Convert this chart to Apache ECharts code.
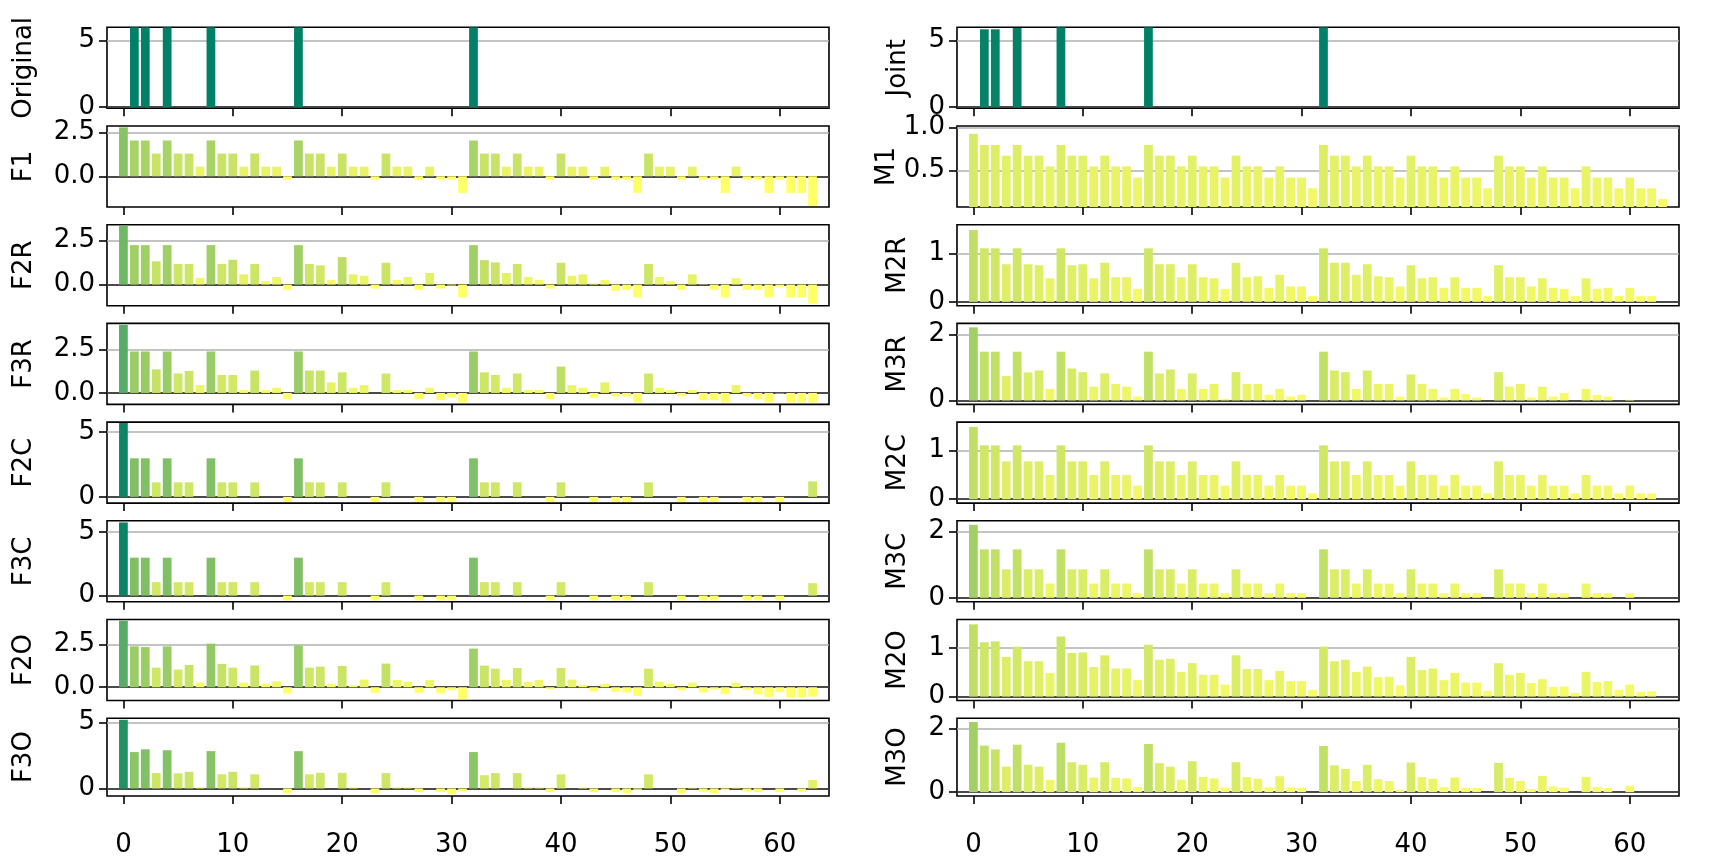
<!DOCTYPE html>
<html>
<head>
<meta charset="utf-8">
<script src="https://cdn.jsdelivr.net/npm/echarts@6/dist/echarts.min.js"></script>
<style>
  html, body { margin: 0; padding: 0; background: #fff; }
  #chart { width: 1718px; height: 858px; }
</style>
</head>
<body>
<div id="chart"></div>
<script>
// bar positions 0..63
const xIndex = [
  0, 1, 2, 3, 4, 5, 6, 7, 8, 9, 10, 11, 12, 13, 14, 15,
  16, 17, 18, 19, 20, 21, 22, 23, 24, 25, 26, 27, 28, 29, 30, 31,
  32, 33, 34, 35, 36, 37, 38, 39, 40, 41, 42, 43, 44, 45, 46, 47,
  48, 49, 50, 51, 52, 53, 54, 55, 56, 57, 58, 59, 60, 61, 62, 63
];
const xTicks = [0, 10, 20, 30, 40, 50, 60];

const original = [
  0, 6, 6, 0, 6, 0, 0, 0, 6, 0, 0, 0, 0, 0, 0, 0,
  6, 0, 0, 0, 0, 0, 0, 0, 0, 0, 0, 0, 0, 0, 0, 0,
  6, 0, 0, 0, 0, 0, 0, 0, 0, 0, 0, 0, 0, 0, 0, 0,
  0, 0, 0, 0, 0, 0, 0, 0, 0, 0, 0, 0, 0, 0, 0, 0
];
const f1 = [
  2.8, 2.05, 2.05, 1.3, 2.05, 1.3, 1.3, 0.55, 2.05, 1.3, 1.3, 0.55, 1.3, 0.55, 0.55, -0.2,
  2.05, 1.3, 1.3, 0.55, 1.3, 0.55, 0.55, -0.2, 1.3, 0.55, 0.55, -0.2, 0.55, -0.2, -0.2, -0.95,
  2.05, 1.3, 1.3, 0.55, 1.3, 0.55, 0.55, -0.2, 1.3, 0.55, 0.55, -0.2, 0.55, -0.2, -0.2, -0.95,
  1.3, 0.55, 0.55, -0.2, 0.55, -0.2, -0.2, -0.95, 0.55, -0.2, -0.2, -0.95, -0.2, -0.95, -0.95, -1.7
];
const f2r = [
  3.35, 2.24, 2.24, 1.32, 2.24, 1.17, 1.17, 0.38, 2.24, 1.17, 1.41, 0.58, 1.17, 0.2, 0.43, -0.3,
  2.24, 1.17, 1.09, 0.26, 1.56, 0.58, 0.5, -0.23, 1.24, 0.26, 0.43, -0.3, 0.66, -0.23, -0.05, -0.73,
  2.24, 1.39, 1.26, 0.66, 1.17, 0.43, 0.26, -0.23, 1.24, 0.5, 0.58, 0.07, 0.26, -0.36, -0.3, -0.73,
  1.17, 0.43, 0.2, -0.3, 0.58, 0.02, -0.3, -0.73, 0.36, -0.3, -0.3, -0.73, -0.15, -0.73, -0.73, -1.09
];
const f3r = [
  3.92, 2.39, 2.39, 1.36, 2.39, 1.12, 1.27, 0.45, 2.39, 1.04, 1.04, 0.17, 1.29, 0.17, 0.3, -0.34,
  2.39, 1.29, 1.29, 0.61, 1.19, 0.3, 0.45, 0, 1.12, 0.17, 0.17, -0.34, 0.3, -0.42, -0.27, -0.55,
  2.39, 1.19, 1.04, 0.3, 1.12, 0.17, 0.17, -0.34, 1.52, 0.45, 0.3, -0.27, 0.61, -0.2, -0.2, -0.55,
  1.12, 0.3, 0.17, -0.2, 0.17, -0.42, -0.42, -0.55, 0.45, -0.2, -0.34, -0.55, -0.03, -0.55, -0.55, -0.55
];
const f2c = [
  5.69, 2.97, 2.97, 1.12, 2.97, 1.12, 1.12, 0, 2.97, 1.12, 1.12, 0, 1.12, 0, 0, -0.38,
  2.97, 1.12, 1.12, 0, 1.12, 0, 0, -0.38, 1.12, 0, 0, -0.38, 0, -0.38, -0.38, 0,
  2.97, 1.12, 1.12, 0, 1.12, 0, 0, -0.38, 1.12, 0, 0, -0.38, 0, -0.38, -0.38, 0,
  1.12, 0, 0, -0.38, 0, -0.38, -0.38, 0, 0, -0.38, -0.38, 0, -0.38, 0, 0, 1.19
];
const f3c = [
  5.77, 2.99, 2.99, 1.06, 2.99, 1.06, 1.06, 0, 2.99, 1.06, 1.06, 0, 1.06, 0, 0, -0.39,
  2.99, 1.06, 1.06, 0, 1.06, 0, 0, -0.39, 1.06, 0, 0, -0.39, 0, -0.39, -0.39, 0,
  2.99, 1.06, 1.06, 0, 1.06, 0, 0, -0.39, 1.06, 0, 0, -0.39, 0, -0.39, -0.39, 0,
  1.06, 0, 0, -0.39, 0, -0.39, -0.39, 0, 0, -0.39, -0.39, 0, -0.39, 0, 0, 0.98
];
const f2o = [
  3.91, 2.4, 2.36, 1.15, 2.4, 1.04, 1.31, 0.27, 2.56, 1.37, 1.15, 0.27, 1.27, 0.21, 0.35, -0.37,
  2.46, 1.15, 1.21, 0.21, 1.25, 0.12, 0.45, -0.33, 1.39, 0.43, 0.31, -0.33, 0.43, -0.37, -0.18, -0.7,
  2.27, 1.27, 1.09, 0.43, 1.13, 0.31, 0.43, -0.1, 1.13, 0.45, 0.14, -0.25, 0.21, -0.27, -0.31, -0.51,
  1.09, 0.33, 0.21, -0.18, 0.27, -0.31, -0.12, -0.39, 0.27, -0.16, -0.41, -0.57, -0.29, -0.61, -0.59, -0.55
];
const f3o = [
  5.19, 2.75, 2.96, 1.16, 2.89, 1.14, 1.26, 0.09, 2.82, 1.07, 1.26, 0.09, 1.07, 0, 0, -0.38,
  2.82, 1.07, 1.18, 0, 1.18, 0.09, 0, -0.38, 1.16, 0.09, 0.09, -0.28, 0, -0.28, -0.43, -0.21,
  2.75, 1.0, 1.16, 0, 1.16, 0.09, 0.09, -0.28, 1.07, 0, 0.07, -0.28, 0, -0.28, -0.36, -0.1,
  1.07, 0, 0, -0.38, 0.07, -0.24, -0.36, -0.12, 0.07, -0.24, -0.28, 0, -0.28, 0, -0.24, 0.64
];
const joint = [
  0, 5.85, 5.85, 0, 5.95, 0, 0, 0, 6, 0, 0, 0, 0, 0, 0, 0,
  6, 0, 0, 0, 0, 0, 0, 0, 0, 0, 0, 0, 0, 0, 0, 0,
  6, 0, 0, 0, 0, 0, 0, 0, 0, 0, 0, 0, 0, 0, 0, 0,
  0, 0, 0, 0, 0, 0, 0, 0, 0, 0, 0, 0, 0, 0, 0, 0
];
const m1 = [
  0.93, 0.8, 0.8, 0.675, 0.8, 0.675, 0.675, 0.55, 0.8, 0.675, 0.675, 0.55, 0.675, 0.55, 0.55, 0.42,
  0.8, 0.675, 0.675, 0.55, 0.675, 0.55, 0.55, 0.42, 0.675, 0.55, 0.55, 0.42, 0.55, 0.42, 0.42, 0.295,
  0.8, 0.675, 0.675, 0.55, 0.675, 0.55, 0.55, 0.42, 0.675, 0.55, 0.55, 0.42, 0.55, 0.42, 0.42, 0.295,
  0.675, 0.55, 0.55, 0.42, 0.55, 0.42, 0.42, 0.295, 0.55, 0.42, 0.42, 0.295, 0.42, 0.295, 0.295, 0.17
];
const m2r = [
  1.49, 1.11, 1.11, 0.78, 1.11, 0.78, 0.76, 0.49, 1.11, 0.76, 0.78, 0.49, 0.81, 0.51, 0.51, 0.27,
  1.11, 0.78, 0.78, 0.51, 0.78, 0.51, 0.49, 0.27, 0.81, 0.51, 0.53, 0.29, 0.56, 0.32, 0.32, 0.12,
  1.11, 0.81, 0.81, 0.56, 0.78, 0.53, 0.51, 0.32, 0.76, 0.49, 0.51, 0.29, 0.51, 0.29, 0.29, 0.12,
  0.76, 0.51, 0.51, 0.32, 0.49, 0.29, 0.27, 0.12, 0.49, 0.27, 0.29, 0.12, 0.29, 0.12, 0.12, 0
];
const m3r = [
  2.22, 1.48, 1.48, 0.74, 1.48, 0.85, 0.91, 0.35, 1.48, 0.97, 0.86, 0.42, 0.82, 0.5, 0.42, 0.12,
  1.48, 0.82, 0.94, 0.35, 0.82, 0.35, 0.5, 0.05, 0.86, 0.5, 0.5, 0.17, 0.35, 0.12, 0.17, 0,
  1.48, 0.91, 0.86, 0.35, 0.91, 0.5, 0.5, 0.12, 0.79, 0.5, 0.35, 0.09, 0.35, 0.2, 0.09, 0,
  0.86, 0.42, 0.5, 0.09, 0.42, 0.12, 0.23, 0, 0.35, 0.17, 0.12, 0, 0.02, 0, 0, 0
];
const m2c = [
  1.49, 1.11, 1.11, 0.78, 1.11, 0.78, 0.78, 0.5, 1.11, 0.78, 0.78, 0.5, 0.78, 0.5, 0.5, 0.28,
  1.11, 0.78, 0.78, 0.5, 0.78, 0.5, 0.5, 0.28, 0.78, 0.5, 0.5, 0.28, 0.5, 0.28, 0.28, 0.12,
  1.11, 0.78, 0.78, 0.5, 0.78, 0.5, 0.5, 0.28, 0.78, 0.5, 0.5, 0.28, 0.5, 0.28, 0.28, 0.12,
  0.78, 0.5, 0.5, 0.28, 0.5, 0.28, 0.28, 0.12, 0.5, 0.28, 0.28, 0.12, 0.28, 0.12, 0.12, 0
];
const m3c = [
  2.2, 1.46, 1.46, 0.86, 1.46, 0.86, 0.86, 0.43, 1.46, 0.86, 0.86, 0.43, 0.86, 0.43, 0.43, 0.14,
  1.46, 0.86, 0.86, 0.43, 0.86, 0.43, 0.43, 0.14, 0.86, 0.43, 0.43, 0.14, 0.43, 0.14, 0.14, 0,
  1.46, 0.86, 0.86, 0.43, 0.86, 0.43, 0.43, 0.14, 0.86, 0.43, 0.43, 0.14, 0.43, 0.14, 0.14, 0,
  0.86, 0.43, 0.43, 0.14, 0.43, 0.14, 0.14, 0, 0.43, 0.14, 0.14, 0, 0.14, 0, 0, 0
];
const m2o = [
  1.49, 1.12, 1.14, 0.82, 1.03, 0.73, 0.73, 0.49, 1.24, 0.9, 0.91, 0.61, 0.85, 0.58, 0.58, 0.34,
  1.07, 0.76, 0.78, 0.51, 0.69, 0.45, 0.45, 0.25, 0.85, 0.57, 0.57, 0.34, 0.53, 0.32, 0.32, 0.14,
  1.03, 0.73, 0.76, 0.51, 0.62, 0.4, 0.41, 0.23, 0.82, 0.55, 0.58, 0.34, 0.49, 0.29, 0.29, 0.12,
  0.69, 0.45, 0.49, 0.28, 0.36, 0.2, 0.21, 0.08, 0.51, 0.3, 0.32, 0.14, 0.25, 0.1, 0.11, 0
];
const m3o = [
  2.2, 1.46, 1.34, 0.8, 1.49, 0.86, 0.8, 0.38, 1.55, 0.94, 0.86, 0.46, 0.94, 0.45, 0.43, 0.16,
  1.51, 0.91, 0.8, 0.39, 0.97, 0.48, 0.43, 0.15, 0.94, 0.47, 0.42, 0.15, 0.5, 0.15, 0.14, 0,
  1.45, 0.84, 0.73, 0.35, 0.86, 0.41, 0.35, 0.08, 0.93, 0.47, 0.42, 0.16, 0.46, 0.14, 0.13, 0,
  0.92, 0.45, 0.35, 0.1, 0.51, 0.18, 0.14, 0, 0.48, 0.16, 0.13, 0, 0.2, 0, 0, 0
];

// axis ranges and tick labels for each small plot
const panels = [
  {name: 'Original', data: original, col: 0, row: 0, min: -0.08, max: 6.0, ticks: [0, 5], dec: 0},
  {name: 'F1', data: f1, col: 0, row: 1, min: -1.76, max: 2.88, ticks: [0, 2.5], dec: 1},
  {name: 'F2R', data: f2r, col: 0, row: 2, min: -1.2, max: 3.4, ticks: [0, 2.5], dec: 1},
  {name: 'F3R', data: f3r, col: 0, row: 3, min: -0.66, max: 4.01, ticks: [0, 2.5], dec: 1},
  {name: 'F2C', data: f2c, col: 0, row: 4, min: -0.48, max: 5.76, ticks: [0, 5], dec: 0},
  {name: 'F3C', data: f3c, col: 0, row: 5, min: -0.49, max: 5.9, ticks: [0, 5], dec: 0},
  {name: 'F2O', data: f2o, col: 0, row: 6, min: -0.78, max: 3.98, ticks: [0, 2.5], dec: 1},
  {name: 'F3O', data: f3o, col: 0, row: 7, min: -0.57, max: 5.31, ticks: [0, 5], dec: 0},
  {name: 'Joint', data: joint, col: 1, row: 0, min: -0.08, max: 6.0, ticks: [0, 5], dec: 0},
  {name: 'M1', data: m1, col: 1, row: 1, min: 0.077, max: 1.02, ticks: [0.5, 1.0], dec: 1},
  {name: 'M2R', data: m2r, col: 1, row: 2, min: -0.08, max: 1.6, ticks: [0, 1], dec: 0},
  {name: 'M3R', data: m3r, col: 1, row: 3, min: -0.12, max: 2.34, ticks: [0, 2], dec: 0},
  {name: 'M2C', data: m2c, col: 1, row: 4, min: -0.08, max: 1.59, ticks: [0, 1], dec: 0},
  {name: 'M3C', data: m3c, col: 1, row: 5, min: -0.12, max: 2.32, ticks: [0, 2], dec: 0},
  {name: 'M2O', data: m2o, col: 1, row: 6, min: -0.08, max: 1.59, ticks: [0, 1], dec: 0},
  {name: 'M3O', data: m3o, col: 1, row: 7, min: -0.12, max: 2.32, ticks: [0, 2], dec: 0}
];

const FONT = 'DejaVu Sans';
const FONT_SIZE = 26;
const GRID_W = 722;
const X_MIN = -1.5, X_MAX = 64.5;

// matplotlib "summer" colormap, high values dark green, 0 and below yellow
function summer(v) {
  var t = 1 - v / 6;
  t = Math.max(0, Math.min(1, t));
  var r = Math.round(255 * t);
  var g = Math.round(255 * (0.5 + 0.5 * t));
  return 'rgb(' + r + ',' + g + ',102)';
}

const chart = echarts.init(document.getElementById('chart'));

var grids = [], xAxes = [], yAxes = [], series = [];

panels.forEach(function (p, i) {
  grids.push({
    left: p.col === 0 ? 107 : 957,
    top: 27.3 + 98.7 * p.row,
    width: GRID_W,
    height: 81,
    show: true,
    borderColor: '#000',
    borderWidth: 1.6,
    backgroundColor: '#fff'
  });

  xAxes.push({
    gridIndex: i,
    type: 'value',
    min: X_MIN,
    max: X_MAX,
    axisLine: {show: false, onZero: false},
    splitLine: {show: false},
    axisTick: {show: true, customValues: xTicks, length: 8, lineStyle: {color: '#000', width: 1.6}},
    axisLabel: {
      show: p.row === 7,
      customValues: xTicks,
      fontSize: FONT_SIZE,
      fontFamily: FONT,
      color: '#000',
      margin: 36
    }
  });

  yAxes.push({
    gridIndex: i,
    type: 'value',
    min: p.min,
    max: p.max,
    name: p.name,
    nameLocation: 'middle',
    nameGap: p.col === 0 ? 70 : 46,
    nameTextStyle: {fontSize: FONT_SIZE, fontFamily: FONT, color: '#000'},
    axisLine: {show: false, onZero: false},
    splitLine: {show: false},
    axisTick: {show: true, customValues: p.ticks, length: 8, lineStyle: {color: '#000', width: 1.6}},
    axisLabel: {
      customValues: p.ticks,
      fontSize: FONT_SIZE,
      fontFamily: FONT,
      color: '#000',
      margin: 12,
      formatter: function (v) { return Number(v).toFixed(p.dec); }
    }
  });

  // grid lines at the ticks, black line at zero
  var lines = p.ticks.map(function (t) {
    return {yAxis: t, lineStyle: {color: '#b0b0b0', width: 1.5, type: 'solid'}};
  });
  if (p.min < 0) {
    lines.push({yAxis: 0, lineStyle: {color: '#222', width: 1.6, type: 'solid'}});
  }

  series.push({
    type: 'bar',
    xAxisIndex: i,
    yAxisIndex: i,
    data: xIndex.map(function (x, j) { return [x, p.data[j]]; }),
    barWidth: 0.8 * GRID_W / (X_MAX - X_MIN),
    itemStyle: {
      color: function (params) { return summer(params.value[1]); }
    },
    markLine: {
      silent: true,
      symbol: ['none', 'none'],
      label: {show: false},
      animation: false,
      z: 1,
      data: lines
    },
    z: 2
  });
});

chart.setOption({
  animation: false,
  backgroundColor: '#fff',
  grid: grids,
  xAxis: xAxes,
  yAxis: yAxes,
  series: series
});
</script>
</body>
</html>
